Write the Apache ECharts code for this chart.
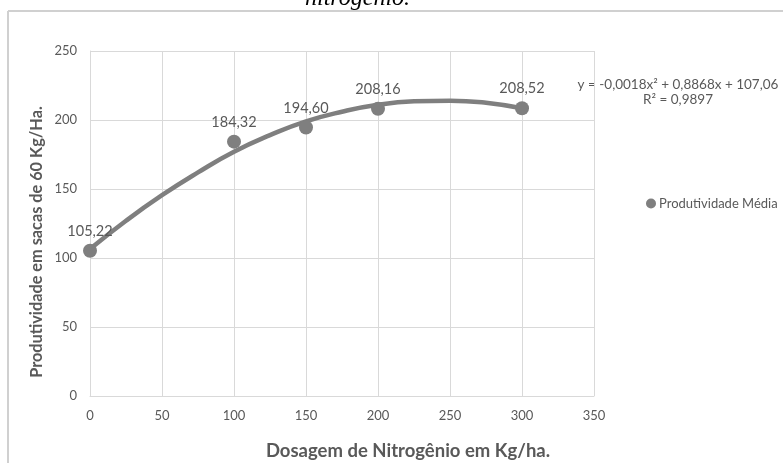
<!DOCTYPE html>
<html>
<head>
<meta charset="utf-8">
<script src="https://cdn.jsdelivr.net/npm/echarts@6/dist/echarts.min.js"></script>
<style>
html,body{margin:0;padding:0;background:#fff;}
#c{width:783px;height:463px;}
</style>
</head>
<body>
<div id="c"></div>
<script>
// Data
const doses = [0, 100, 150, 200, 300];
const produtividade = [105.22, 184.32, 194.60, 208.16, 208.52];
// Polynomial trendline, values
const trendX = [0, 25, 50, 75, 100, 125, 150, 175, 200, 225, 250, 275, 300];
const trendY = [106.5, 127, 145.5, 162, 177, 189, 199, 206, 211, 213.5, 214, 212.5, 208.5];
const xTicks = [0, 50, 100, 150, 200, 250, 300, 350];
const yTicks = [0, 50, 100, 150, 200, 250];
const seriesName = 'Produtividade Média';
const equationText = 'y = -0,0018x² + 0,8868x + 107,06';
const r2Text = 'R² = 0,9897';
const xTitle = 'Dosagem de Nitrogênio em Kg/ha.';
const yTitle = 'Produtividade em sacas de 60 Kg/Ha.';
const topText = 'nitrogênio.';

const FONT = 'Lato';
const TXT = '#595959';
const GRID = '#d9d9d9';
const MARK = '#7f7f7f';

const chart = echarts.init(document.getElementById('c'));
chart.setOption({
  animation: false,
  backgroundColor: '#fff',
  grid: {left: 90, top: 51, right: 189, bottom: 67},
  xAxis: {
    type: 'value', min: xTicks[0], max: xTicks[xTicks.length - 1], interval: 50,
    axisLine: {show: true, lineStyle: {color: GRID, width: 1}},
    axisTick: {show: false},
    splitLine: {show: true, lineStyle: {color: GRID, width: 1}},
    axisLabel: {color: TXT, fontSize: 13, fontFamily: FONT, margin: 13}
  },
  yAxis: {
    type: 'value', min: yTicks[0], max: yTicks[yTicks.length - 1], interval: 50,
    axisLine: {show: true, lineStyle: {color: GRID, width: 1}},
    axisTick: {show: false},
    splitLine: {show: true, lineStyle: {color: GRID, width: 1}},
    axisLabel: {color: TXT, fontSize: 13, fontFamily: FONT, margin: 13}
  },
  legend: {
    data: [{name: seriesName, icon: 'circle'}],
    left: 641, top: 192, itemWidth: 10, itemHeight: 10, itemGap: 4,
    textStyle: {color: TXT, fontSize: 13, fontFamily: FONT, padding: [0,0,0,-2]}
  },
  series: [
    {
      name: 'trend', type: 'line', smooth: true, showSymbol: false, symbol: 'none',
      data: trendX.map((x, i) => [x, trendY[i]]),
      lineStyle: {color: MARK, width: 4.5}, z: 2, silent: true
    },
    {
      name: seriesName, type: 'scatter', symbolSize: 14,
      data: doses.map((x, i) => [x, produtividade[i]]),
      itemStyle: {color: MARK, opacity: 1},
      label: {
        show: true, position: 'top', distance: 5, color: TXT, fontSize: 14.5, fontFamily: FONT,
        formatter: p => p.value[1].toFixed(2).replace('.', ',')
      },
      z: 3
    }
  ],
  graphic: [
    {type: 'line', shape: {x1: 8, y1: 11, x2: 783, y2: 11}, style: {stroke: '#d0d0d0', lineWidth: 2}},
    {type: 'line', shape: {x1: 8, y1: 11, x2: 8, y2: 463}, style: {stroke: '#d0d0d0', lineWidth: 2}},
    {type: 'text', left: 305, top: -13, style: {text: topText, fill: '#000', font: 'italic 24px "Liberation Serif"'}},
    {type: 'text', x: 678, y: 85, style: {text: equationText, fill: TXT, font: '13.5px ' + FONT, textAlign: 'center', textVerticalAlign: 'middle'}},
    {type: 'text', x: 678, y: 100, style: {text: r2Text, fill: TXT, font: '13.5px ' + FONT, textAlign: 'center', textVerticalAlign: 'middle'}},
    {type: 'text', x: 408, y: 451, style: {text: xTitle, fill: TXT, font: 'bold 18.5px ' + FONT, textAlign: 'center', textVerticalAlign: 'middle'}},
    {type: 'text', x: 37, y: 242, rotation: Math.PI / 2, style: {text: yTitle, fill: TXT, font: 'bold 16.3px ' + FONT, textAlign: 'center', textVerticalAlign: 'middle'}}
  ]
});
</script>
</body>
</html>
